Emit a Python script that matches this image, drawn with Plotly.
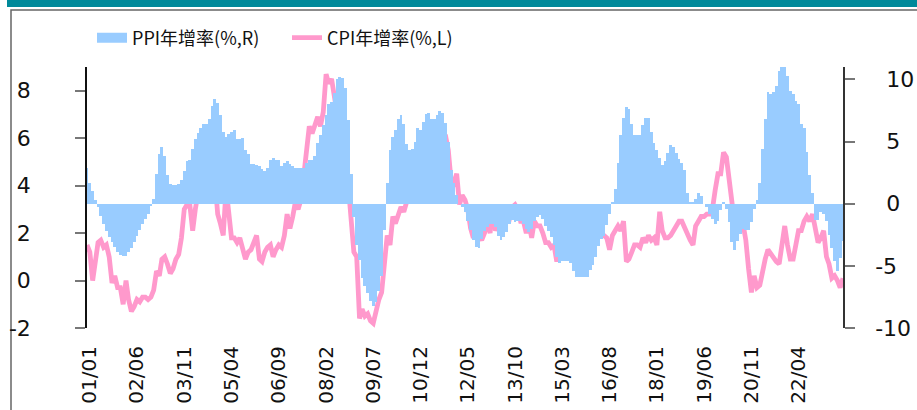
import pandas as pd
import plotly.graph_objects as go

# monthly data, 2000/12 .. 2023/08
start_month = "2000-12-01"

cpi_yoy = [1.5,
           1.2, 0.0, 0.8, 1.6, 1.7, 1.4, 1.5, 1.0, -0.1, 0.2, -0.3, -0.3,
           -1.0, 0.0, -0.8, -1.3, -1.1, -0.8, -0.9, -0.7, -0.7, -0.8, -0.7, -0.4,
           0.4, 0.2, 0.9, 1.0, 0.7, 0.3, 0.5, 0.9, 1.1, 1.8, 3.0, 3.2,
           3.2, 2.1, 3.0, 3.8, 4.4, 5.0, 5.3, 5.3, 5.2, 4.3, 2.8, 2.4,
           1.9, 3.9, 2.7, 1.8, 1.8, 1.6, 1.8, 1.3, 0.9, 1.2, 1.3, 1.6,
           1.9, 0.9, 0.8, 1.2, 1.4, 1.5, 1.0, 1.3, 1.5, 1.4, 1.9, 2.8,
           2.2, 2.7, 3.3, 3.0, 3.4, 4.4, 5.6, 6.5, 6.2, 6.5, 6.9, 6.5,
           7.1, 8.7, 8.3, 8.5, 7.7, 7.1, 6.3, 4.9, 4.6, 4.0, 2.4, 1.2,
           1.0, -1.6, -1.2, -1.5, -1.4, -1.7, -1.8, -1.2, -0.8, -0.5, 0.6, 1.9,
           1.5, 2.7, 2.4, 2.8, 3.1, 2.9, 3.3, 3.5, 3.6, 4.4, 5.1, 4.6,
           4.9, 4.9, 5.4, 5.3, 5.5, 6.4, 6.5, 6.2, 6.1, 5.5, 4.2, 4.1,
           4.5, 3.2, 3.6, 3.4, 3.0, 2.2, 1.8, 2.0, 1.9, 1.7, 2.0, 2.5,
           2.0, 3.2, 2.1, 2.4, 2.1, 2.7, 2.7, 2.6, 3.1, 3.2, 3.0, 2.5,
           2.5, 2.0, 2.4, 1.8, 2.5, 2.3, 2.3, 2.0, 1.6, 1.6, 1.4, 1.5,
           0.8, 1.4, 1.4, 1.5, 1.2, 1.4, 1.6, 2.0, 1.6, 1.3, 1.5, 1.6,
           1.8, 2.3, 2.3, 2.3, 2.0, 1.9, 1.8, 1.3, 1.9, 2.1, 2.3, 2.1,
           2.5, 0.8, 0.9, 1.2, 1.5, 1.5, 1.4, 1.8, 1.6, 1.9, 1.7, 1.8,
           1.5, 2.9, 2.1, 1.8, 1.8, 1.9, 2.1, 2.3, 2.5, 2.5, 2.2, 1.9,
           1.7, 1.5, 2.3, 2.5, 2.7, 2.7, 2.8, 2.8, 3.0, 3.8, 4.5, 4.5,
           5.4, 5.2, 4.3, 3.3, 2.4, 2.5, 2.7, 2.4, 1.7, 0.5, -0.5, 0.2,
           -0.3, -0.2, 0.4, 0.9, 1.3, 1.1, 1.0, 0.8, 0.7, 1.5, 2.3, 1.5,
           0.9, 0.9, 1.5, 2.1, 2.1, 2.5, 2.7, 2.5, 2.8, 2.1, 1.6, 1.8,
           2.1, 1.0, 0.7, 0.1, 0.2, 0.0, -0.3, 0.1]

ppi_yoy = [2.9,
           1.7, 1.0, 0.3, -0.3, -1.0, -1.6, -2.2, -2.7, -3.1, -3.5, -3.9, -4.1,
           -4.2, -4.2, -3.9, -3.6, -3.1, -2.6, -2.1, -1.6, -1.2, -0.8, -0.2, 0.4,
           2.4, 4.0, 4.6, 3.8, 2.3, 1.6, 1.5, 1.5, 1.6, 1.9, 2.6, 3.4,
           3.5, 4.4, 5.2, 5.7, 6.1, 6.4, 6.4, 6.8, 7.9, 8.4, 8.1, 7.1,
           5.8, 5.4, 5.6, 5.8, 5.9, 5.2, 5.2, 5.3, 4.3, 4.0, 3.2, 3.2,
           3.1, 3.0, 2.8, 2.6, 2.9, 3.5, 3.7, 3.5, 3.5, 3.0, 3.3, 3.4,
           3.2, 3.0, 2.9, 2.9, 2.9, 2.9, 3.3, 3.5, 3.5, 3.8, 4.9, 5.5,
           6.3, 7.1, 8.0, 8.2, 8.9, 10.0, 10.2, 10.1, 9.3, 6.7, 2.4, -1.1,
           -3.3, -4.5, -6.0, -6.6, -7.2, -7.8, -8.2, -7.9, -7.0, -5.8, -2.1, 1.7,
           4.3, 5.4, 5.9, 6.8, 7.1, 6.4, 4.8, 4.3, 4.4, 5.0, 6.1, 5.9,
           6.6, 7.2, 7.3, 6.8, 6.8, 7.1, 7.5, 7.3, 6.5, 5.0, 2.7, 1.7,
           0.7, 0.0, -0.3, -0.7, -1.4, -2.1, -2.9, -3.5, -3.6, -2.8, -2.2, -1.9,
           -1.6, -1.6, -1.9, -2.6, -2.9, -2.7, -2.3, -1.6, -1.3, -1.5, -1.4, -1.4,
           -1.6, -2.0, -2.3, -2.0, -1.4, -1.1, -0.9, -1.2, -1.8, -2.2, -2.7, -3.3,
           -4.3, -4.8, -4.6, -4.6, -4.6, -4.8, -5.4, -5.9, -5.9, -5.9, -5.9, -5.9,
           -5.3, -4.9, -4.3, -3.4, -2.8, -2.6, -1.7, -0.8, 0.1, 1.2, 3.3, 5.5,
           6.9, 7.8, 7.6, 6.4, 5.5, 5.5, 5.5, 6.3, 6.9, 6.9, 5.8, 4.9,
           4.3, 3.7, 3.1, 3.4, 4.1, 4.7, 4.6, 4.1, 3.6, 3.3, 2.7, 0.9,
           0.1, 0.1, 0.4, 0.9, 0.6, 0.0, -0.3, -0.8, -1.2, -1.6, -1.4, -0.5,
           0.1, -0.4, -1.5, -3.1, -3.7, -3.0, -2.4, -2.0, -2.1, -2.1, -1.5, -0.4,
           0.3, 1.7, 4.4, 6.8, 9.0, 8.8, 9.0, 9.5, 10.7, 13.5, 12.9, 10.3,
           9.1, 8.8, 8.3, 8.0, 6.4, 6.1, 4.2, 2.3, 0.9, -1.3, -1.3, -0.7,
           -0.8, -1.4, -2.5, -3.6, -4.6, -5.4, -4.4, -3.0]

ppi_name = "PPI年增率(%,R)"
cpi_name = "CPI年增率(%,L)"

months = pd.date_range(start_month, periods=len(cpi_yoy), freq="MS")
tick_months = months[1::17]
tick_text = [d.strftime("%y/%m") for d in tick_months]

left_range = [-2, 9]
right_range = [-10, 11]
left_ticks = [-2, 0, 2, 4, 6, 8]
right_ticks = [-10, -5, 0, 5, 10]
# plain hyphen as minus; right labels padded so the digits line up
left_text = [str(v) for v in left_ticks]
right_text = [str(v) if v < 0 else "\u2002" + str(v) for v in right_ticks]

BLUE = "#99CCFF"
PINK = "#FF99CC"

# figure geometry (pixels)
W, H = 917, 410
X0, X1, Y0, Y1 = 87, 843, 67, 328


def px(x):
    return (x - X0) / (X1 - X0)


def py(y):
    return (Y1 - y) / (Y1 - Y0)


fig = go.Figure()

fig.add_trace(go.Bar(
    x=months, y=ppi_yoy, name=ppi_name, yaxis="y2", showlegend=False,
    marker=dict(color=BLUE, line=dict(width=0)),
    width=31 * 24 * 3600 * 1000,
))
# legend-only entry so the PPI key is a wide block like the original
fig.add_trace(go.Scatter(
    x=[None], y=[None], name=ppi_name, mode="lines",
    line=dict(color=BLUE, width=14),
))
fig.add_trace(go.Scatter(
    x=months, y=cpi_yoy, name=cpi_name, mode="lines",
    line=dict(color=PINK, width=4.8),
))

y_font = dict(family="DejaVu Sans", size=22, color="#111111")
x_font = dict(family="DejaVu Sans", size=20, color="#111111")
x_range = [months[0], months[-1]]

fig.update_layout(
    width=W, height=H,
    margin=dict(l=X0, r=W - X1, t=Y0, b=H - Y1, autoexpand=False),
    paper_bgcolor="white", plot_bgcolor="white",
    bargap=0,
    showlegend=True,
    hovermode=False,
    legend=dict(orientation="h", x=px(92), y=py(38), xanchor="left", yanchor="middle",
                font=dict(family="Noto Sans CJK TC", size=18, color="#111111"),
                traceorder="normal", entrywidth=150, entrywidthmode="pixels",
                itemwidth=30, bgcolor="rgba(0,0,0,0)"),
    xaxis=dict(range=x_range, tickvals=tick_months, ticktext=tick_text, automargin=False,
               tickangle=-90, ticks="", showline=False, showgrid=False, zeroline=False,
               tickfont=x_font, ticklabelstandoff=13),
    # axis at the right-hand zero line: line plus upward tick marks
    xaxis2=dict(range=x_range, overlaying="x", anchor="free", side="top", automargin=False,
                position=(0 - right_range[0]) / (right_range[1] - right_range[0]),
                tickvals=tick_months, showticklabels=False, ticks="outside",
                ticklen=7, tickwidth=1.5, tickcolor="#222222",
                showline=True, linecolor="#3d4b5c", linewidth=2, showgrid=False, zeroline=False),
    yaxis=dict(range=left_range, tickvals=left_ticks, ticktext=left_text, ticks="outside",
               automargin=False, ticklen=10, tickwidth=1.5, tickcolor="#777777",
               showline=True, linecolor="#111111", linewidth=1.5,
               showgrid=False, zeroline=False, tickfont=y_font, ticklabelstandoff=40),
    yaxis2=dict(range=right_range, tickvals=right_ticks, ticktext=right_text,
                overlaying="y", side="right",
                ticks="outside", ticklen=10, tickwidth=1.5, tickcolor="#777777", automargin=False,
                showline=True, linecolor="#333333", linewidth=1.5,
                showgrid=False, zeroline=False, tickfont=y_font, ticklabelstandoff=16),
    # inner halves of the crossing tick marks
    yaxis3=dict(range=left_range, tickvals=left_ticks, overlaying="y", side="left",
                ticks="inside", ticklen=10, tickwidth=1.5, tickcolor="#777777", automargin=False,
                showticklabels=False, showline=False, showgrid=False, zeroline=False),
    yaxis4=dict(range=right_range, tickvals=right_ticks, overlaying="y", side="right",
                ticks="inside", ticklen=10, tickwidth=1.5, tickcolor="#777777", automargin=False,
                showticklabels=False, showline=False, showgrid=False, zeroline=False),
)

# header band and outer frame
fig.add_shape(type="rect", xref="paper", yref="paper",
              x0=px(7), x1=px(W + 20), y0=py(7), y1=py(-5),
              fillcolor="#00899A", line=dict(width=0), layer="below")
fig.add_shape(type="rect", xref="paper", yref="paper",
              x0=px(11), x1=px(W + 20), y0=py(H + 20), y1=py(10),
              fillcolor="rgba(0,0,0,0)", line=dict(color="#666666", width=1.5), layer="below")

# drop the page's default body margin so the figure sits at the window's corner
fig.write_html("out.html", config={"displayModeBar": False},
               post_script="document.body.style.margin = '0';")
